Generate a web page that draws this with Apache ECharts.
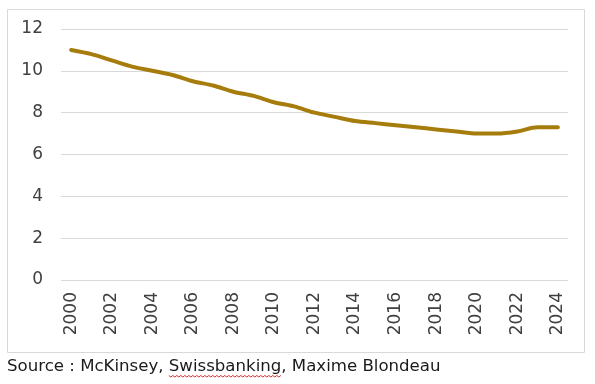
<!DOCTYPE html>
<html><head><meta charset="utf-8">
<script src="https://cdn.jsdelivr.net/npm/echarts@6/dist/echarts.min.js"></script>
<style>html,body{margin:0;padding:0;background:#fff}#c{width:595px;height:384px}</style>
</head><body><div id="c"></div>
<script>
const years = ['2000','2001','2002','2003','2004','2005','2006','2007','2008','2009','2010','2011','2012','2013','2014','2015','2016','2017','2018','2019','2020','2021','2022','2023','2024'];
const values = [11.0,10.8,10.5,10.2,10.0,9.8,9.5,9.3,9.0,8.8,8.5,8.3,8.0,7.8,7.6,7.5,7.4,7.3,7.2,7.1,7.0,7.0,7.1,7.3,7.3];
const sourcePre = 'Source : McKinsey, ';
const sourceWord = 'Swissbanking';
const sourceText = 'Source : McKinsey, Swissbanking, Maxime Blondeau';
const font = 'DejaVu Sans';
const srcFont = '16.6px "DejaVu Sans"';
const cv = document.createElement('canvas').getContext('2d');
cv.font = srcFont;
const x0 = 7 + cv.measureText(sourcePre).width;
const w = cv.measureText(sourceWord).width;
const wave = [];
for (let i = 0; i * 2 <= w; i++) wave.push([x0 + i * 2, 375.5 + (i % 2 ? 1.5 : 0)]);
const chart = echarts.init(document.getElementById('c'), null, {renderer:'canvas'});
chart.setOption({
  animation:false,
  backgroundColor:'#fff',
  grid:{left:61, right:27, top:29, bottom:104},
  graphic:[
    {type:'rect', shape:{x:7.5,y:9.5,width:577,height:343}, style:{fill:'none', stroke:'#D9D9D9', lineWidth:1}, z:-1},
    {type:'text', left:7, top:358, style:{text:sourceText, font:srcFont, fill:'#1a1a1a'}},
    {type:'polyline', shape:{points:wave}, style:{stroke:'#D42A2A', lineWidth:1, fill:'none'}}
  ],
  xAxis:{
    type:'category', data:years, boundaryGap:true,
    axisLine:{show:false}, axisTick:{show:false},
    axisLabel:{rotate:90, interval:1, margin:12, color:'#404040', fontFamily:font, fontSize:17}
  },
  yAxis:{
    type:'value', min:0, max:12, interval:2,
    axisLine:{show:false}, axisTick:{show:false},
    axisLabel:{margin:18, color:'#404040', fontFamily:font, fontSize:17},
    splitLine:{lineStyle:{color:'#D9D9D9', width:1}}
  },
  series:[{
    type:'line', data:values, smooth:0.3, symbol:'none',
    lineStyle:{color:'#A67C0C', width:4, cap:'round'}
  }]
});
</script></body></html>
